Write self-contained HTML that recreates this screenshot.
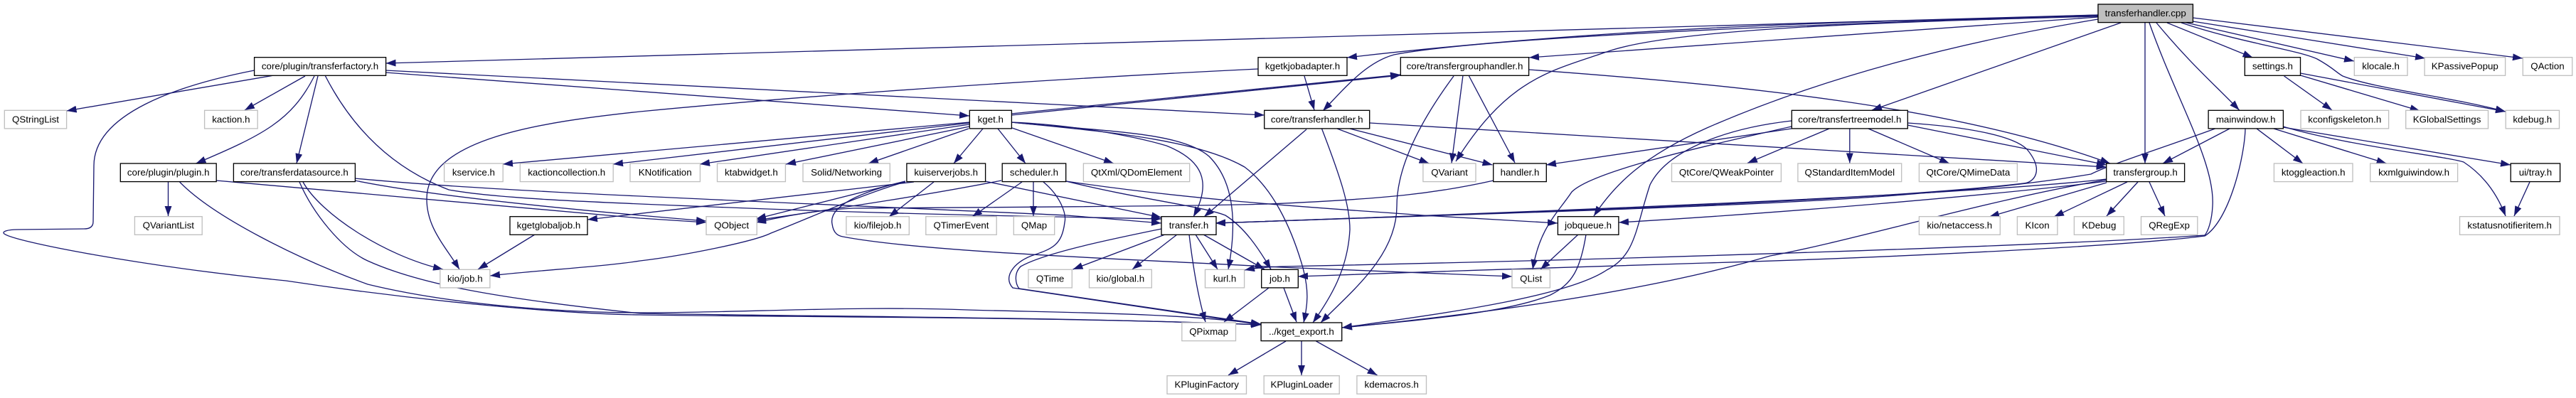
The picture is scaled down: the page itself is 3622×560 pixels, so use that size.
<!DOCTYPE html>
<html><head><meta charset="utf-8"><style>
html,body{margin:0;padding:0;background:#fff}
svg{display:block}
text{font-family:"Liberation Sans",sans-serif;font-size:13.33px;text-anchor:middle;fill:#000}
rect{fill:#fff;stroke-width:1.33}
rect.k{stroke:#000}
rect.g{stroke:#bfbfbf}
path{fill:none;stroke:#191970;stroke-width:1.33;marker-end:url(#a)}
</style></head><body>
<svg xmlns="http://www.w3.org/2000/svg" width="3622" height="560" viewBox="0 0 3622 560">
<defs><marker id="a" markerUnits="userSpaceOnUse" markerWidth="14" markerHeight="10" viewBox="0 0 13.3 9.4" refX="13.3" refY="4.7" orient="auto"><polygon points="0,0 13.3,4.7 0,9.4" fill="#191970"/></marker></defs>
<g>
<!-- root -->
<path d="M2950 21L542.5 89"/>
<path d="M2950 22C2650 30 2300 34 1894 81"/>
<path d="M2950 21C2600 33 2100 50 1960 77C1920 88 1890 125 1860 156"/>
<path d="M2950 24L2150 81"/>
<path d="M2950 23C2650 31 2350 40 2259 73C2180 100 2120 110 2047 227"/>
<path d="M2982 32L2632 155"/>
<path d="M2950 27C2750 60 2560 110 2400 180C2310 220 2270 260 2241 304"/>
<path d="M3016 32L3016 230"/>
<path d="M3022 32C3060 140 3115 230 3111 290C3110 310 3105 325 3100 331C2900 345 2300 365 1800 375C1780 376 1765 377 1750 380"/>
<path d="M3047 32L3167.5 81"/>
<path d="M3032 32C3080 90 3115 120 3148.6 155"/>
<path d="M3067 32C3150 60 3230 70 3258 83C3280 95 3285 102 3294 107C3340 125 3440 135 3523 157"/>
<path d="M3070 31L3310 86"/>
<path d="M3083 30L3410 82"/>
<path d="M3083 25L3547 82"/>
<!-- factory -->
<path d="M385 106L93.6 156"/>
<path d="M429 107L344 155"/>
<path d="M442 107C410 170 370 190 275.5 230"/>
<path d="M447 107L417 230"/>
<path d="M542 102L1363 163"/>
<path d="M542 99L1778 162"/>
<path d="M457 106C500 190 560 240 631 267C700 280 850 285 1000 291C1300 303 1500 305 1633 308"/>
<path d="M357.6 99C250 120 132 160 132 233L131 312C131 320 125 322 118 322L25 323C10 323 2 326 6 329C20 340 200 375 402 395C600 425 800 442 900 443C1100 446 1500 446 1773 457"/>
<!-- plugin -->
<path d="M236.5 256L236.5 304"/>
<path d="M252.6 256C300 305 420 365 517 400C640 430 800 440 900 440C1050 440 1200 430 1360 436C1500 440 1650 440 1773 456"/>
<path d="M304 254L900 307L993 313"/>
<!-- datasource -->
<path d="M421 256C440 300 480 350 517 367C590 400 700 420 900 441C1100 445 1500 446 1773 457"/>
<path d="M426 256C450 300 540 360 623 379"/>
<path d="M499 251C700 270 1000 280 1500 303L1633 314"/>
<path d="M499 254C600 275 800 295 993 311"/>
<!-- kgetkjobadapter -->
<path d="M1769 97C1500 110 1158 132 900 157C760 172 600 195 600 280C600 320 625 345 646 379"/>
<path d="M1834 107L1848 155"/>
<path d="M752 330L672 379"/>
<!-- kget -->
<path d="M1422 162L1969 106"/>
<path d="M1422 160L1969 105"/>
<path d="M1363 172L707 231"/>
<path d="M1363 173L862 231"/>
<path d="M1363 175L984 231"/>
<path d="M1363 178L1105 231"/>
<path d="M1362 181L1221 230"/>
<path d="M1382 181L1341 230"/>
<path d="M1403 181L1442 230"/>
<path d="M1423 180L1566 230"/>
<path d="M1422 172C1500 175 1590 190 1640 205C1690 225 1705 255 1678 305"/>
<path d="M1422 172C1550 185 1660 185 1700 220C1730 250 1742 300 1727 379"/>
<path d="M1422 172C1550 185 1680 195 1750 235C1790 265 1815 320 1830 370C1842 410 1838 430 1833 454"/>
<!-- kuiserverjobs -->
<path d="M1285 256L826 309"/>
<path d="M1273 255L1063 308"/>
<path d="M1273 255C1210 270 1165 290 1170 315C1172 330 1180 332 1185 333C1300 355 1600 365 1800 376L2126 389"/>
<path d="M1273 256C1220 270 1130 310 1084 328C1060 340 960 360 900 367C850 375 760 380 689 388"/>
<path d="M1313 256L1250 305"/>
<path d="M1385 255L1633 306"/>
<!-- scheduler -->
<path d="M1408 254C1300 275 1200 290 1063 310"/>
<path d="M1437 256L1367 305"/>
<path d="M1453 256L1453 304"/>
<path d="M1467 256C1490 275 1500 300 1497 313C1493 345 1480 350 1450 360C1425 370 1410 390 1424 405L1773 457"/>
<path d="M1499 255C1600 280 1690 290 1723 303C1750 320 1770 350 1787 379"/>
<path d="M1499 255C1700 285 1900 295 2001 303L2190 314"/>
<!-- transfer -->
<path d="M1633 322C1570 335 1470 355 1435 375C1425 385 1428 400 1433 406L1773 456"/>
<path d="M1638 330L1508.5 379"/>
<path d="M1655 330L1592 379"/>
<path d="M1672 330C1678 380 1685 420 1695 453"/>
<path d="M1681 330L1712 379"/>
<path d="M1692 330L1778 379"/>
<!-- job -->
<path d="M1784 405L1721 453"/>
<path d="M1805 405L1823 453"/>
<!-- export -->
<path d="M1808 480L1727 528"/>
<path d="M1830 480L1830 528"/>
<path d="M1850.5 480L1936.6 528"/>
<!-- tgh -->
<path d="M2150 98C2450 120 2750 150 2967 230"/>
<path d="M2057 106L2041 229.5"/>
<path d="M2065 106L2130 229"/>
<path d="M2044 107C1990 180 1964 240 1964 290C1964 360 1900 410 1857 454"/>
<!-- transferhandler.h -->
<path d="M1880 181L2009.5 230"/>
<path d="M1898 181L2098.5 232"/>
<path d="M1926 173L2961.6 235"/>
<path d="M1858.5 181C1885 250 1898 290 1898 323C1895 380 1870 420 1846 454"/>
<path d="M1837 182L1693 305"/>
<!-- handler -->
<path d="M2100 254C2020 272 1950 280 1783 287C1650 291 1300 292 1200 293C1150 295 1100 305 1063 313"/>
<!-- treemodel -->
<path d="M2519 181L2174 232"/>
<path d="M2572 181L2457 229.5"/>
<path d="M2600.8 181L2600.8 229.5"/>
<path d="M2627 181L2741 230"/>
<path d="M2682 176L2962 232"/>
<path d="M2682 173C2760 178 2830 190 2850 210C2875 240 2860 257 2845 258C2700 275 2400 290 2100 300C1950 305 1800 310 1709 314"/>
<path d="M2519 170C2430 180 2345 210 2320 260C2300 320 2300 360 2259 380C2200 420 2000 445 1887 461"/>
<path d="M2519 178C2400 205 2240 240 2210 270C2190 300 2165 320 2155 379"/>
<!-- jobqueue -->
<path d="M2219 330L2166 379"/>
<path d="M2230 330C2222 380 2210 400 2180 415C2120 440 2000 450 1887 461"/>
<!-- transfergroup -->
<path d="M2962 252C2800 270 2400 290 1709 314"/>
<path d="M2962 255C2800 275 2500 300 2276 313"/>
<path d="M2962 253C2800 280 2600 340 2489 360C2300 415 2050 445 1887 461"/>
<path d="M2962 257L2797 305"/>
<path d="M2991 256L2888 305"/>
<path d="M3006 256L2962 304"/>
<path d="M3022 256L3044 304"/>
<!-- mainwindow -->
<path d="M3135 181L3041 230"/>
<path d="M3114.5 181C3050 205 2970 230 2940 245C2880 255 2800 265 2700 272C2500 290 2100 300 1709 314"/>
<path d="M3157 181C3156 220 3135 310 3100 332C3000 345 2700 361 2400 370C2250 375 2000 382 1825 389"/>
<path d="M3173 181L3238 230"/>
<path d="M3197 181L3355.6 230"/>
<path d="M3210 179L3530 232"/>
<path d="M3210 178C3300 205 3440 220 3464 228C3490 245 3510 270 3523 304"/>
<path d="M3557 256L3535 304"/>
<!-- settings -->
<path d="M3211.6 107L3279 155"/>
<path d="M3234.5 106L3402.6 156"/>
<path d="M3234.5 103L3523 157"/>
</g>
<rect x="2950" y="6" width="133.4" height="25.6" style="fill:#bfbfbf;stroke:#000"/><text x="3016.7" y="23">transferhandler.cpp</text>
<rect class="k" x="357.6" y="80.7" width="185" height="25.6"/><text x="450" y="97.7">core/plugin/transferfactory.h</text>
<rect class="k" x="1769" y="80.7" width="125" height="25.6"/><text x="1831.5" y="97.7">kgetkjobadapter.h</text>
<rect class="k" x="1969.3" y="80.7" width="180.3" height="25.6"/><text x="2059.5" y="97.7">core/transfergrouphandler.h</text>
<rect class="k" x="3156.3" y="80.7" width="78.2" height="25.6"/><text x="3195.4" y="97.7">settings.h</text>
<rect class="g" x="3310.3" y="80.7" width="74.7" height="25.6"/><text x="3347.6" y="97.7">klocale.h</text>
<rect class="g" x="3409.1" y="80.7" width="113.5" height="25.6"/><text x="3465.8" y="97.7">KPassivePopup</text>
<rect class="g" x="3547.3" y="80.7" width="69.4" height="25.6"/><text x="3582" y="97.7">QAction</text>
<rect class="g" x="6.3" y="155.3" width="87.3" height="25.6"/><text x="50" y="172.3">QStringList</text>
<rect class="g" x="287.6" y="155.3" width="74.6" height="25.6"/><text x="324.9" y="172.3">kaction.h</text>
<rect class="k" x="1363.3" y="155.3" width="59.1" height="25.6"/><text x="1392.8" y="172.3">kget.h</text>
<rect class="k" x="1777.7" y="155.3" width="148" height="25.6"/><text x="1851.7" y="172.3">core/transferhandler.h</text>
<rect class="k" x="2519.3" y="155.3" width="163" height="25.6"/><text x="2600.8" y="172.3">core/transfertreemodel.h</text>
<rect class="k" x="3105.1" y="155.3" width="105.3" height="25.6"/><text x="3157.7" y="172.3">mainwindow.h</text>
<rect class="g" x="3235" y="155.3" width="123.6" height="25.6"/><text x="3296.8" y="172.3">kconfigskeleton.h</text>
<rect class="g" x="3382.7" y="155.3" width="115.8" height="25.6"/><text x="3440.6" y="172.3">KGlobalSettings</text>
<rect class="g" x="3523.2" y="155.3" width="75.3" height="25.6"/><text x="3560.8" y="172.3">kdebug.h</text>
<rect class="k" x="169.3" y="230" width="134.9" height="25.6"/><text x="236.7" y="247">core/plugin/plugin.h</text>
<rect class="k" x="328.4" y="230" width="171" height="25.6"/><text x="413.9" y="247">core/transferdatasource.h</text>
<rect class="g" x="624.6" y="230" width="82.6" height="25.6"/><text x="665.9" y="247">kservice.h</text>
<rect class="g" x="731.3" y="230" width="130.9" height="25.6"/><text x="796.7" y="247">kactioncollection.h</text>
<rect class="g" x="886" y="230" width="98.4" height="25.6"/><text x="935.2" y="247">KNotification</text>
<rect class="g" x="1008.5" y="230" width="95.9" height="25.6"/><text x="1056.4" y="247">ktabwidget.h</text>
<rect class="g" x="1129" y="230" width="122.3" height="25.6"/><text x="1190.1" y="247">Solid/Networking</text>
<rect class="k" x="1274.9" y="230" width="110.7" height="25.6"/><text x="1330.2" y="247">kuiserverjobs.h</text>
<rect class="k" x="1409.2" y="230" width="89.5" height="25.6"/><text x="1454" y="247">scheduler.h</text>
<rect class="g" x="1523.4" y="230" width="149.3" height="25.6"/><text x="1598" y="247">QtXml/QDomElement</text>
<rect class="g" x="2000.9" y="230" width="74.1" height="25.6"/><text x="2038" y="247">QVariant</text>
<rect class="k" x="2099.7" y="230" width="74.6" height="25.6"/><text x="2137" y="247">handler.h</text>
<rect class="g" x="2350.5" y="230" width="153.9" height="25.6"/><text x="2427.4" y="247">QtCore/QWeakPointer</text>
<rect class="g" x="2527.9" y="230" width="145.8" height="25.6"/><text x="2600.8" y="247">QStandardItemModel</text>
<rect class="g" x="2698.4" y="230" width="138" height="25.6"/><text x="2767.4" y="247">QtCore/QMimeData</text>
<rect class="k" x="2961.7" y="230" width="109.9" height="25.6"/><text x="3016.6" y="247">transfergroup.h</text>
<rect class="g" x="3197.4" y="230" width="110.6" height="25.6"/><text x="3252.7" y="247">ktoggleaction.h</text>
<rect class="g" x="3332.7" y="230" width="122.9" height="25.6"/><text x="3394.1" y="247">kxmlguiwindow.h</text>
<rect class="k" x="3530.2" y="230" width="69.4" height="25.6"/><text x="3564.9" y="247">ui/tray.h</text>
<rect class="g" x="189.4" y="304.7" width="94.8" height="25.6"/><text x="236.8" y="321.7">QVariantList</text>
<rect class="k" x="717" y="304.7" width="109" height="25.6"/><text x="771.5" y="321.7">kgetglobaljob.h</text>
<rect class="g" x="993" y="304.7" width="71.2" height="25.6"/><text x="1028.6" y="321.7">QObject</text>
<rect class="g" x="1189.9" y="304.7" width="88.4" height="25.6"/><text x="1234.1" y="321.7">kio/filejob.h</text>
<rect class="g" x="1301.8" y="304.7" width="99.4" height="25.6"/><text x="1351.5" y="321.7">QTimerEvent</text>
<rect class="g" x="1425.3" y="304.7" width="57.4" height="25.6"/><text x="1454" y="321.7">QMap</text>
<rect class="k" x="1633" y="304.7" width="77" height="25.6"/><text x="1671.5" y="321.7">transfer.h</text>
<rect class="k" x="2190.4" y="304.7" width="85.5" height="25.6"/><text x="2233.1" y="321.7">jobqueue.h</text>
<rect class="g" x="2698.4" y="304.7" width="113.9" height="25.6"/><text x="2755.3" y="321.7">kio/netaccess.h</text>
<rect class="g" x="2836.4" y="304.7" width="56.5" height="25.6"/><text x="2864.6" y="321.7">KIcon</text>
<rect class="g" x="2916.4" y="304.7" width="69.9" height="25.6"/><text x="2951.3" y="321.7">KDebug</text>
<rect class="g" x="3010.5" y="304.7" width="79.3" height="25.6"/><text x="3050.1" y="321.7">QRegExp</text>
<rect class="g" x="3458.5" y="304.7" width="140.5" height="25.6"/><text x="3528.7" y="321.7">kstatusnotifieritem.h</text>
<rect class="g" x="618.8" y="379.3" width="70.1" height="25.6"/><text x="653.8" y="396.3">kio/job.h</text>
<rect class="g" x="1445.9" y="379.3" width="61.4" height="25.6"/><text x="1476.6" y="396.3">QTime</text>
<rect class="g" x="1531.5" y="379.3" width="87.8" height="25.6"/><text x="1575.4" y="396.3">kio/global.h</text>
<rect class="g" x="1694.5" y="379.3" width="55.1" height="25.6"/><text x="1722" y="396.3">kurl.h</text>
<rect class="k" x="1773.7" y="379.3" width="51.6" height="25.6"/><text x="1799.5" y="396.3">job.h</text>
<rect class="g" x="2126" y="379.3" width="53.4" height="25.6"/><text x="2152.7" y="396.3">QList</text>
<rect class="g" x="1661.8" y="454" width="75.7" height="25.6"/><text x="1699.6" y="471">QPixmap</text>
<rect class="k" x="1773.1" y="454" width="113.6" height="25.6"/><text x="1829.9" y="471">../kget_export.h</text>
<rect class="g" x="1641" y="528.7" width="111.5" height="25.6"/><text x="1696.7" y="545.7">KPluginFactory</text>
<rect class="g" x="1777.2" y="528.7" width="106" height="25.6"/><text x="1830.2" y="545.7">KPluginLoader</text>
<rect class="g" x="1907.9" y="528.7" width="97.6" height="25.6"/><text x="1956.7" y="545.7">kdemacros.h</text>
</svg>
</body></html>
